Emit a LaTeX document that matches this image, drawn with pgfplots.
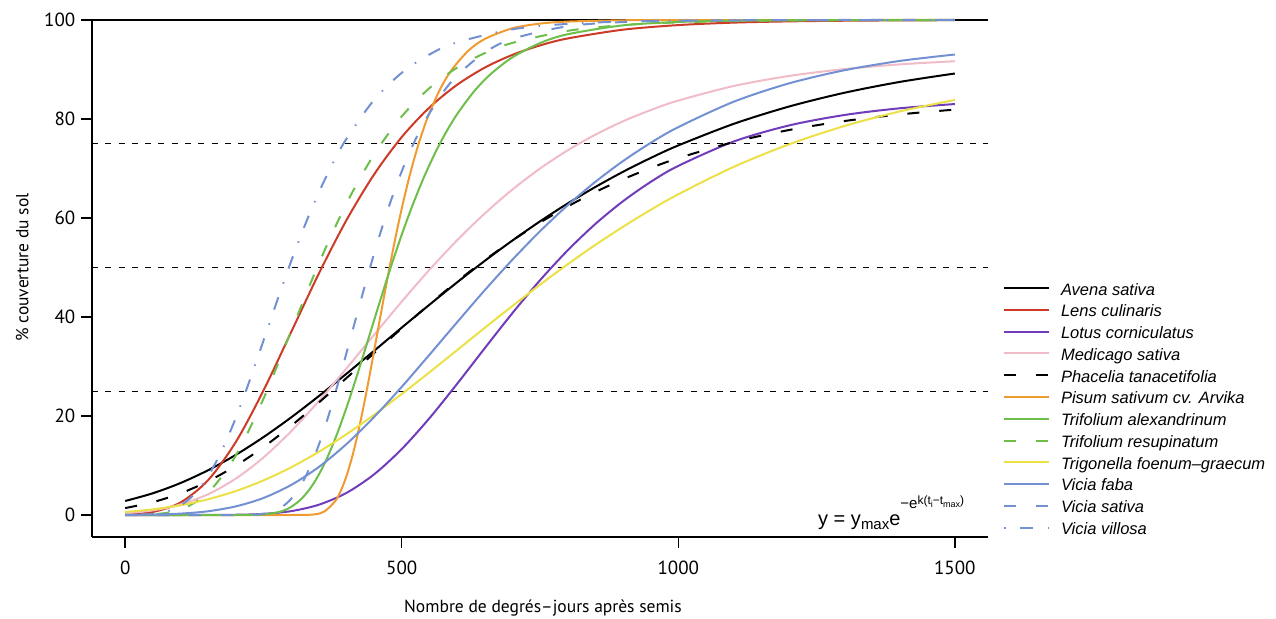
\documentclass[border=0pt]{standalone}
\usepackage{fontspec}
\usepackage{pgfplots}
\pgfplotsset{compat=1.18}
\newfontfamily\ptfont{PT Sans}
\newfontfamily\arialfont{Liberation Sans}
\definecolor{cred}{RGB}{205,58,40}
\definecolor{cpurple}{RGB}{112,60,185}
\definecolor{cpink}{RGB}{240,188,200}
\definecolor{corange}{RGB}{240,155,50}
\definecolor{cgreen}{RGB}{110,190,75}
\definecolor{cyellow}{RGB}{235,225,70}
\definecolor{cblue}{RGB}{115,145,210}
\newcommand\ls{\rule[-6.2bp]{0pt}{21.5bp}}
\newcommand\tickfont{\ptfont\fontsize{19bp}{23bp}\selectfont}
\newcommand\labfont{\ptfont\fontsize{17.5bp}{21bp}\selectfont}
\begin{document}
\begin{tikzpicture}
\useasboundingbox (-92bp,-82bp) rectangle (1184bp,537bp);
\begin{axis}[
 at={(0,0)}, anchor=south west,
 scale only axis, width=896bp, height=517bp,
 xmin=-60, xmax=1560, ymin=-4.444, ymax=100,
 axis x line*=bottom, axis y line*=left,
 axis line style={-, line width=1.6bp, black},
 tick align=outside, major tick length=10.5bp,
 major tick style={black, line width=1.4bp},
 xtick={0,500,1000,1500}, xticklabels={0,500,1000,1500},
 ytick={0,20,40,60,80,100}, yticklabels={0,20,40,60,80,100},
 xticklabel style={font=\tickfont, inner sep=0pt, anchor=north, yshift=-13bp},
 yticklabel style={font=\tickfont, inner sep=0pt, anchor=east, xshift=-6bp},
 clip=false,
 every axis plot/.append style={line width=2bp, line join=round},
 legend style={at={(1.016741,0.497485)}, anchor=north west,
   draw=none, fill=none, inner sep=0pt, outer sep=0pt,
   row sep=4.97bp, column sep=0bp,
   font=\arialfont\itshape\fontsize{16.5bp}{20bp}\selectfont,
   nodes={inner sep=0pt}},
 legend cell align=left,
 legend image code/.code={\draw[#1] (0bp,0bp) -- (45bp,0bp); \path[draw=none,fill=none] (0bp,0bp) rectangle (57bp,0bp);},
]
\addplot[black, line width=1.1bp, dash pattern=on 6bp off 7.3bp, forget plot] coordinates {(-60,25)(1560,25)};
\addplot[black, line width=1.1bp, dash pattern=on 6bp off 7.3bp, forget plot] coordinates {(-60,50)(1560,50)};
\addplot[black, line width=1.1bp, dash pattern=on 6bp off 7.3bp, forget plot] coordinates {(-60,75)(1560,75)};
\addplot[black, line width=1.5bp, forget plot] coordinates {(-60,100)(1560,100)};

\addplot[black, smooth] coordinates {(0,2.83)(50,4.39)(100,6.46)(150,9.05)(200,12.15)(250,15.73)(300,19.71)(350,24.01)(400,28.53)(450,33.17)(500,37.85)(550,42.47)(600,46.99)(650,51.33)(700,55.44)(750,59.32)(800,62.93)(850,66.26)(900,69.33)(950,72.12)(1000,74.66)(1100,79.01)(1200,82.51)(1300,85.29)(1400,87.48)(1500,89.19)};
\addlegendentry{\ls Avena sativa}
\addplot[cred, smooth] coordinates {(0,0.09)(50,0.61)(100,2.53)(150,7.05)(200,14.75)(250,25.14)(300,36.93)(350,48.74)(400,59.55)(450,68.79)(500,76.35)(550,82.31)(600,86.90)(650,90.37)(700,92.95)(750,94.86)(800,96.27)(900,98.04)(1000,98.97)(1100,99.47)(1200,99.72)(1300,99.85)(1400,99.92)(1500,99.96)};
\addlegendentry{\ls Lens culinaris}
\addplot[cpurple, smooth] coordinates {(0,0)(100,0)(200,0.05)(250,0.23)(300,0.78)(350,2.07)(400,4.46)(450,8.21)(500,13.32)(550,19.54)(600,26.48)(650,33.68)(700,40.77)(750,47.42)(800,53.46)(850,58.79)(900,63.38)(950,67.28)(1000,70.53)(1100,75.44)(1200,78.69)(1300,80.80)(1400,82.16)(1500,83.02)};
\addlegendentry{\ls Lotus corniculatus}
\addplot[cpink, smooth] coordinates {(0,0.34)(50,0.93)(100,2.13)(150,4.20)(200,7.35)(250,11.62)(300,16.91)(350,23.00)(400,29.60)(450,36.39)(500,43.11)(550,49.52)(600,55.49)(650,60.90)(700,65.74)(750,69.99)(800,73.67)(850,76.83)(900,79.53)(950,81.80)(1000,83.72)(1100,86.66)(1200,88.69)(1300,90.08)(1400,91.03)(1500,91.67)};
\addlegendentry{\ls Medicago sativa}
\addplot[black, smooth, dash pattern=on 12bp off 20bp] coordinates {(0,1.40)(50,2.59)(100,4.37)(150,6.82)(200,9.95)(250,13.71)(300,18.01)(350,22.71)(400,27.66)(450,32.70)(500,37.71)(550,42.56)(600,47.17)(650,51.48)(700,55.45)(750,59.07)(800,62.33)(850,65.24)(900,67.82)(950,70.09)(1000,72.09)(1100,75.34)(1200,77.77)(1300,79.58)(1400,80.92)(1500,81.90)};
\addlegendentry{\ls Phacelia tanacetifolia}
\addplot[corange, smooth] coordinates {(0,0)(200,0)(300,0)(340,0.10)(360,0.70)(380,2.85)(390,4.93)(400,7.83)(410,11.58)(420,16.13)(430,21.36)(440,27.08)(450,33.11)(460,39.24)(470,45.32)(480,51.18)(490,56.74)(500,61.90)(510,66.64)(520,70.94)(530,74.78)(540,78.20)(550,81.21)(570,86.16)(590,89.88)(620,93.74)(650,96.16)(700,98.32)(750,99.27)(800,99.68)(900,99.94)(1000,99.99)(1500,100)};
\addlegendentry{\ls Pisum sativum cv. Arvika}
\addplot[cgreen, smooth] coordinates {(0,0)(200,0)(250,0.12)(280,0.66)(300,1.63)(320,3.41)(340,6.25)(360,10.29)(380,15.48)(400,21.64)(420,28.49)(440,35.70)(460,42.95)(480,49.99)(500,56.62)(520,62.71)(540,68.20)(560,73.05)(580,77.29)(600,80.95)(630,85.47)(660,88.99)(700,92.45)(750,95.33)(800,97.12)(900,98.92)(1000,99.60)(1100,99.85)(1200,99.94)(1500,100)};
\addlegendentry{\ls Trifolium alexandrinum}
\addplot[cgreen, smooth, dash pattern=on 12bp off 20bp] coordinates {(0,0.01)(50,0.13)(100,1.08)(150,4.51)(200,12.02)(250,23.48)(300,37.12)(350,50.78)(400,62.91)(450,72.84)(500,80.51)(550,86.23)(600,90.36)(650,93.30)(700,95.37)(800,97.81)(900,98.97)(1000,99.52)(1100,99.77)(1200,99.89)(1300,99.95)(1500,99.99)};
\addlegendentry{\ls Trifolium resupinatum}
\addplot[cyellow, smooth] coordinates {(0,0.61)(50,1.14)(100,1.97)(150,3.18)(200,4.84)(250,6.99)(300,9.63)(350,12.76)(400,16.31)(450,20.24)(500,24.44)(550,28.82)(600,33.30)(650,37.80)(700,42.22)(750,46.52)(800,50.65)(850,54.56)(900,58.22)(950,61.64)(1000,64.79)(1100,70.32)(1200,74.87)(1300,78.57)(1400,81.52)(1500,83.85)};
\addlegendentry{\ls Trigonella foenum–graecum}
\addplot[cblue, smooth] coordinates {(0,0.02)(50,0.09)(100,0.28)(150,0.76)(200,1.74)(250,3.44)(300,6.06)(350,9.69)(400,14.32)(450,19.79)(500,25.89)(550,32.36)(600,38.93)(650,45.40)(700,51.56)(750,57.32)(800,62.57)(850,67.30)(900,71.49)(950,75.17)(1000,78.36)(1100,83.48)(1200,87.19)(1300,89.84)(1400,91.72)(1500,93.03)};
\addlegendentry{\ls Vicia faba}
\addplot[cblue, smooth, dash pattern=on 12bp off 20bp] coordinates {(0,0)(150,0)(200,0)(240,0.12)(260,0.47)(280,1.37)(300,3.24)(320,6.46)(340,11.19)(360,17.37)(380,24.68)(400,32.68)(420,40.90)(440,48.94)(460,56.48)(480,63.35)(500,69.42)(520,74.70)(540,79.20)(570,84.65)(600,88.78)(650,93.43)(700,96.19)(800,98.74)(900,99.59)(1000,99.87)(1200,99.99)(1500,100)};
\addlegendentry{\ls Vicia sativa}
\addplot[cblue, smooth, dash pattern=on 1.5bp off 14.5bp on 13bp off 14.5bp] coordinates {(0,0.01)(50,0.21)(80,0.88)(100,1.90)(125,4.18)(150,7.88)(175,13.08)(200,19.62)(225,27.15)(250,35.22)(275,43.37)(300,51.23)(325,58.55)(350,65.14)(375,70.96)(400,75.99)(450,83.86)(500,89.33)(550,93.03)(600,95.48)(700,98.12)(800,99.22)(900,99.68)(1000,99.87)(1200,99.98)(1500,100)};
\addlegendentry{\ls Vicia villosa}
\end{axis}
\node[anchor=base, inner sep=0pt, font=\labfont] at (451bp,-75.5bp) {Nombre de degrés–jours après semis};
\node[rotate=90, anchor=base, inner sep=0pt, font=\labfont] at (-63.5bp,269.5bp) {\% couverture du sol};
\node[anchor=base west, inner sep=0pt, font=\arialfont\fontsize{20bp}{24bp}\selectfont] at (726bp,12bp) {y = y\raisebox{-4bp}{\fontsize{15bp}{15bp}\selectfont max}e\raisebox{17bp}{\fontsize{15bp}{15bp}\selectfont −e\raisebox{4bp}{\fontsize{12bp}{12bp}\selectfont k(t\raisebox{-3bp}{\fontsize{9bp}{9bp}\selectfont i}−t\raisebox{-3bp}{\fontsize{9bp}{9bp}\selectfont max})}}};
\end{tikzpicture}
\end{document}
